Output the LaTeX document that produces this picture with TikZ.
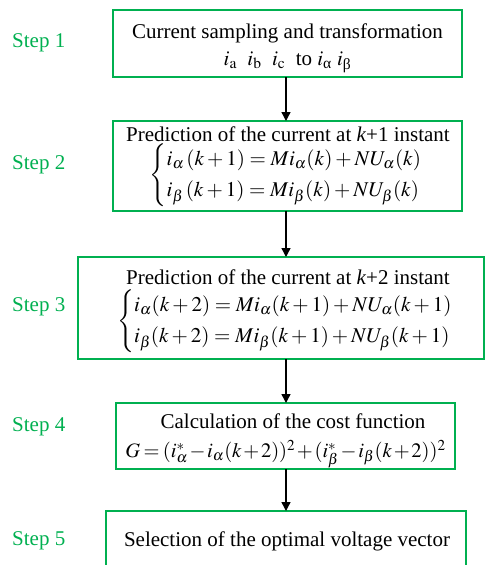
\documentclass[tikz,border=0pt]{standalone}
\usepackage{amsmath}
\usepackage{mathptmx}
\usepackage[no-math]{fontspec}
\setmainfont{Liberation Serif}
\usetikzlibrary{arrows.meta}
\definecolor{stepgreen}{RGB}{0,176,80}
\tikzset{
  x=1pt, y=-1pt,
  box/.style={draw=stepgreen, line width=1.4pt, inner sep=0pt, outer sep=0pt},
  txt/.style={inner sep=0pt, text=black},
  steplabel/.style={text=stepgreen, anchor=west, inner sep=0pt},
  arr/.style={line width=1.4pt, -{Triangle[length=9pt,width=9pt]}},
  every node/.style={font=\fontsize{21}{26}\selectfont}
}
\newcommand{\eqsys}[2]{\def\arraystretch{1.2}$\left\{\begin{array}{@{}l@{}}#1\\ #2\end{array}\right.$}
\begin{document}
\begin{tikzpicture}
\useasboundingbox (0,0) rectangle (486,565);
\coordinate (ax) at (286,0);
% boxes
\node[box, minimum width=349pt, minimum height=67pt] (b1) at (287.5,43.5) {};
\node[box, minimum width=349pt, minimum height=90pt] (b2) at (287.5,166) {};
\node[box, minimum width=406pt, minimum height=102pt] (b3) at (281,308) {};
\node[box, minimum width=339pt, minimum height=66pt] (b4) at (285.5,436) {};
\node[box, minimum width=360pt, minimum height=62pt] (b5) at (286,542) {};
% texts
\node[txt] (t1a) at (287.5,33) {Current sampling and transformation};
\node[txt] (t1b) at (287.5,62)
  {$i_{\mathrm a}$\enspace $i_{\mathrm b}$\enspace $i_{\mathrm c}$\enspace to $i_{\text{α}}$ $i_{\text{β}}$};
\node[txt] (t2a) at (288,134) {Prediction of the current at \textit{k}+1 instant};
\node[txt] (t2b) at (286,175)
  {\eqsys{i_\alpha\,(k+1)=Mi_\alpha(k)+NU_\alpha(k)}{i_\beta\,(k+1)=Mi_\beta(k)+NU_\beta(k)}};
\node[txt] (t3a) at (288,277) {Prediction of the current at \textit{k}+2 instant};
\node[txt] (t3b) at (285,321)
  {\eqsys{i_\alpha(k+2)=Mi_\alpha(k+1)+NU_\alpha(k+1)}{i_\beta(k+2)=Mi_\beta(k+1)+NU_\beta(k+1)}};
\node[txt] (t4a) at (293,421) {Calculation of the cost function};
\node[txt] (t4b) at (285.5,454)
  {\fontsize{20.5}{24}\selectfont\medmuskip=1.5mu\thickmuskip=3mu$G=(i_\alpha^*-i_\alpha(k+2))^2+(i_\beta^*-i_\beta(k+2))^2$};
\node[txt] (t5) at (287,541) {Selection of the optimal voltage vector};
% step labels
\node[steplabel] (s1) at (12,43) {Step 1};
\node[steplabel] (s2) at (12,165) {Step 2};
\node[steplabel] (s3) at (12,307) {Step 3};
\node[steplabel] (s4) at (12,427) {Step 4};
\node[steplabel] (s5) at (12,541) {Step 5};
% arrows
\draw[arr] (b1.south -| ax) -- (b2.north -| ax);
\draw[arr] (b2.south -| ax) -- (b3.north -| ax);
\draw[arr] (b3.south -| ax) -- (b4.north -| ax);
\draw[arr] (b4.south -| ax) -- (b5.north -| ax);
\end{tikzpicture}
\end{document}
